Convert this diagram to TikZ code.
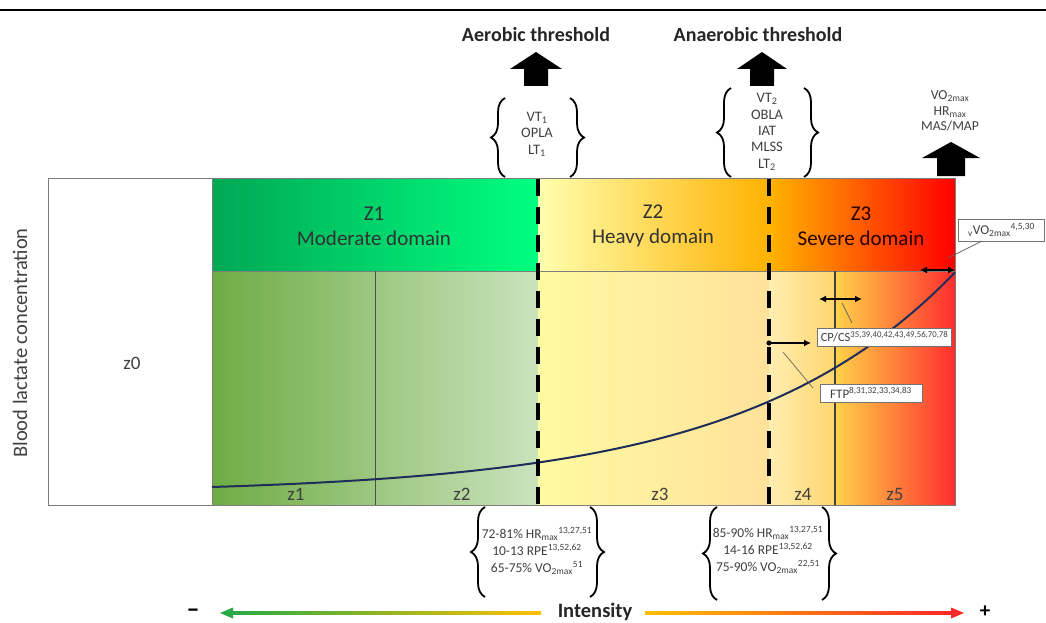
\documentclass[tikz,border=0pt]{standalone}
\usepackage{fontspec}
\setmainfont{Carlito}
\usetikzlibrary{arrows.meta,decorations.pathreplacing,calc}
\definecolor{zAdark}{RGB}{0,168,84}
\definecolor{zAlight}{RGB}{0,255,128}
\definecolor{yelpale}{RGB}{255,255,175}
\definecolor{yel}{RGB}{255,250,0}
\definecolor{orng}{RGB}{255,178,0}
\definecolor{orng3}{RGB}{255,180,0}
\definecolor{pinkred}{RGB}{255,70,60}
\definecolor{redd}{RGB}{255,0,0}
\definecolor{grnA}{RGB}{110,172,68}
\definecolor{grnB}{RGB}{202,227,188}
\definecolor{ltyA}{RGB}{255,250,160}
\definecolor{ltyB}{RGB}{255,226,155}
\definecolor{zfA}{RGB}{255,238,178}
\definecolor{zfB}{RGB}{255,214,110}
\definecolor{zvA}{RGB}{255,210,72}
\definecolor{zvM}{RGB}{255,160,60}
\definecolor{zvB}{RGB}{255,45,45}
\definecolor{curvecol}{RGB}{31,45,90}
\definecolor{txt}{RGB}{64,64,64}
\definecolor{edge}{RGB}{125,125,125}
\definecolor{igreen}{RGB}{40,170,70}
\definecolor{igold}{RGB}{255,192,0}
\definecolor{iorange}{RGB}{255,140,20}
\definecolor{ired}{RGB}{255,40,40}
\begin{document}
\begin{tikzpicture}[x=1pt,y=-1pt,
  lbl/.style={text=txt, inner sep=0pt, align=center},
  threshtitle/.style={font=\fontsize{20}{22}\selectfont\bfseries, text=black!85, inner sep=0pt},
  domtitle/.style={font=\fontsize{21}{25}\selectfont, text=black!80, align=center, inner sep=0pt},
  zlab/.style={font=\fontsize{19}{21}\selectfont, text=black!75, inner sep=0pt},
  boxedge/.style={draw=edge, line width=0.8pt},
  thresh/.style={line width=3.6pt, dash pattern=on 17pt off 11pt, black},
  divider/.style={line width=0.9pt, draw=black!70},
  dblarrow/.style={{Latex[length=7pt,width=7pt]}-{Latex[length=7pt,width=7pt]}, line width=1.8pt},
  onearrow/.style={-{Latex[length=7pt,width=7pt]}, line width=1.8pt},
  leader/.style={draw=black!60, line width=0.7pt},
  callout/.style={draw=black!55, fill=white, line width=1pt, inner sep=1.5pt, text=txt},
  brc/.style={decorate, decoration={brace, amplitude=14pt}, line width=1.8pt}
]
\useasboundingbox (0,0) rectangle (1046,623);

% top rule
\draw[line width=2.5pt] (0,10) -- (1046,10);

% z0 box
\draw[boxedge, fill=white] (48,178) rectangle (212,505);
\node[zlab] (zzero) at (132,363) {z0};

% domain band
\shade[left color=zAdark, right color=zAlight] (212,178) rectangle (538,271);
\shade[left color=yelpale, middle color=yel, right color=orng] (538,178) rectangle (769,271);
\shade[left color=orng3, middle color=pinkred, right color=redd] (769,178) rectangle (955,271);

% lower zones
\shade[left color=grnA, right color=grnB] (212,271) rectangle (538,505);
\shade[left color=ltyA, right color=ltyB] (538,271) rectangle (769,505);
\shade[left color=zfA, right color=zfB] (769,271) rectangle (835,505);
\shade[left color=zvA, middle color=zvM, right color=zvB] (835,271) rectangle (955,505);

\draw[boxedge] (212,178) rectangle (955,505);
\draw[boxedge] (212,271) -- (955,271);
\draw[divider] (375,271) -- (375,505);
\draw[divider, line width=1.3pt, draw=black!75] (835,271) -- (835,505);

% domain titles
\node[domtitle] (dZ1) at (374,226) {Z1\\Moderate domain};
\node[domtitle] (dZ2) at (653,226) {Z2\\Heavy domain};
\node[domtitle, text=black!85!red] (dZ3) at (861,226) {Z3\\Severe domain};

% zone labels
\node[zlab] (zone1) at (296,494) {z1};
\node[zlab] (zone2) at (462,494) {z2};
\node[zlab] (zone3) at (660,494) {z3};
\node[zlab] (zone4) at (803,494) {z4};
\node[zlab] (zone5) at (895,494) {z5};

% lactate curve
\draw[curvecol, line width=2pt] plot[domain=212:955, samples=90, smooth] (\x, {487 - 6.74*(exp(0.0047*(\x-212))-1)});

% threshold dashed lines
\coordinate (aerTop) at (538,179);
\coordinate (aerBot) at (538,507);
\coordinate (anaTop) at (769,179);
\coordinate (anaBot) at (769,507);
\draw[thresh] (aerTop) -- (aerBot);
\draw[thresh] (anaTop) -- (anaBot);

% titles and block arrows
\node[threshtitle] (aerT) at (536,35) {Aerobic threshold};
\node[threshtitle] (anaT) at (758,35) {Anaerobic threshold};
\fill (510,69) -- (536,52) -- (562,69) -- (548,69) -- (548,86) -- (524,86) -- (524,69) -- cycle;
\fill (737,69) -- (762,52) -- (787,69) -- (774,69) -- (774,86) -- (750,86) -- (750,69) -- cycle;
\fill (922,158) -- (951,142) -- (980,158) -- (965,158) -- (965,176) -- (937,176) -- (937,158) -- cycle;

% upper lists
\node[lbl, font=\fontsize{14.5}{16.5}\selectfont] (aerList) at (537,134) {VT\textsubscript{1}\\OPLA\\LT\textsubscript{1}};
\node[lbl, font=\fontsize{14.5}{16.4}\selectfont] (anaList) at (767,132) {VT\textsubscript{2}\\OBLA\\IAT\\MLSS\\LT\textsubscript{2}};
\node[lbl, font=\fontsize{13.7}{15.8}\selectfont] (maxList) at (950,111) {VO\textsubscript{2max}\\HR\textsubscript{max}\\MAS/MAP};

\draw[brc] (505,177) -- (505,98);
\draw[brc] (570,98) -- (570,177);
\draw[brc] (731,177) -- (731,88);
\draw[brc] (804,88) -- (804,177);

% lower lists
\node[lbl, font=\fontsize{13.5}{17}\selectfont] (aerPct) at (537,551) {72-81\% HR\textsubscript{max}\textsuperscript{13,27,51}\\10-13 RPE\textsuperscript{13,52,62}\\65-75\% VO\textsubscript{2max}\textsuperscript{51}};
\node[lbl, font=\fontsize{13.5}{17}\selectfont] (anaPct) at (768,550) {85-90\% HR\textsubscript{max}\textsuperscript{13,27,51}\\14-16 RPE\textsuperscript{13,52,62}\\75-90\% VO\textsubscript{2max}\textsuperscript{22,51}};

\draw[brc] (485,597) -- (485,507);
\draw[brc] (590,507) -- (590,597);
\draw[brc] (717,600) -- (717,507);
\draw[brc] (822,507) -- (822,600);

% small arrows in severe zone
\coordinate (vL) at (920,270);
\coordinate (vR) at (955,270);
\draw[dblarrow] (vL) -- (vR);
\coordinate (cL) at (819,299);
\coordinate (cR) at (862,299);
\draw[dblarrow] (cL) -- (cR);
\coordinate (fL) at (769,343);
\coordinate (fR) at (811,343);
\fill (fL) circle (2.6pt);
\draw[onearrow] (fL) -- (fR);

% callouts
\node[callout, font=\fontsize{13.5}{15}\selectfont, minimum width=86pt, minimum height=22pt] (vbox) at (1001.5,230) {\textsubscript{v}VO\textsubscript{2max}\textsuperscript{4,5,30}};
\coordinate (vFrom) at (982,241);
\coordinate (vTo) at (948,258);
\draw[leader] (vFrom) -- (vTo);

\node[callout, font=\fontsize{12.5}{14}\selectfont, minimum width=134pt, minimum height=18pt] (cbox) at (884.5,337) {CP/CS\textsuperscript{35,39,40,42,43,49,56,70,78}};
\coordinate (cFrom) at (852,323);
\coordinate (cTo) at (842,303);
\draw[leader] (cFrom) -- (cTo);

\node[callout, font=\fontsize{13}{14}\selectfont, minimum width=102pt, minimum height=18pt] (fbox) at (871,393) {FTP\textsuperscript{8,31,32,33,34,83}};
\coordinate (fFrom) at (813,388);
\coordinate (fTo) at (783,352);
\draw[leader] (fFrom) -- (fTo);

% axis label
\node[font=\fontsize{20.5}{22}\selectfont, text=black!75, rotate=90, inner sep=0pt] (ylab) at (20,343) {Blood lactate concentration};

% intensity arrow
\shade[left color=igreen, right color=igold] (230,611.5) rectangle (541,614.5);
\fill[igreen] (220,613) -- (233,607.5) -- (233,618.5) -- cycle;
\shade[left color=igold, middle color=iorange, right color=ired] (645,611.5) rectangle (952,614.5);
\fill[ired] (964,613) -- (951,607.5) -- (951,618.5) -- cycle;
\node[font=\fontsize{20.5}{22}\selectfont\bfseries, text=black!85, inner sep=0pt] (intens) at (595,612) {Intensity};
\node[font=\fontsize{26}{28}\selectfont\bfseries, inner sep=0pt] (minus) at (193,613) {–};
\node[font=\fontsize{21}{23}\selectfont\bfseries, inner sep=0pt] (plus) at (985,612) {+};
\end{tikzpicture}
\end{document}
